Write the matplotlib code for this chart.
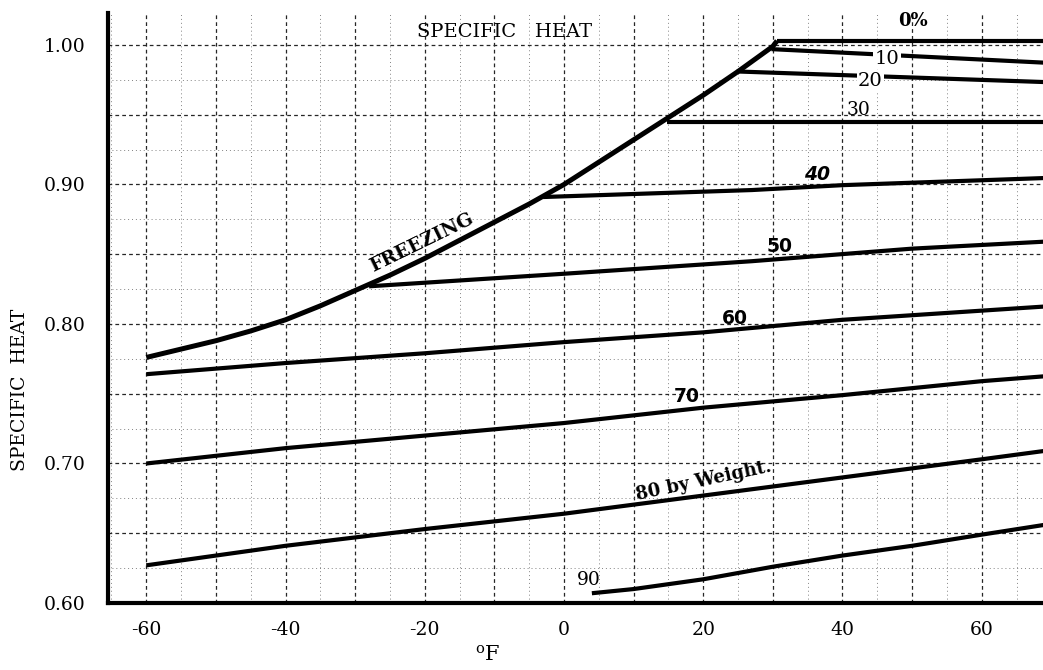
import numpy as np
import matplotlib
matplotlib.use("Agg")
import matplotlib.pyplot as plt

plt.rcParams['font.family'] = ['DejaVu Serif']
plt.rcParams['mathtext.fontset'] = 'dejavuserif'

# ---------------- data ----------------
freeze_t = [-60, -55, -50, -45, -40, -35, -30, -25, -20, -15, -10, -5, 0,
            5, 10, 15, 20, 25, 30, 30.6]
freeze_c = [0.776, 0.782, 0.788, 0.795, 0.803, 0.813, 0.824, 0.835, 0.847,
            0.860, 0.873, 0.886, 0.900, 0.916, 0.932, 0.948, 0.964, 0.981,
            0.999, 1.003]

w0_t = [30.6, 69.0]
w0_c = [1.003, 1.003]
w10_t = [29.8, 69.0]
w10_c = [0.997, 0.9873]
w20_t = [24.8, 69.0]
w20_c = [0.981, 0.9734]
w30_t = [14.8, 69.0]
w30_c = [0.945, 0.945]
w40_t = [-3.0, 27, 40, 69.0]
w40_c = [0.891, 0.896, 0.8995, 0.9046]
w50_t = [-28.0, 0, 27, 50, 69.0]
w50_c = [0.827, 0.836, 0.845, 0.854, 0.859]
w60_t = [-60, -40, -20, 0, 20, 40, 69.0]
w60_c = [0.764, 0.772, 0.779, 0.787, 0.794, 0.803, 0.8125]
w70_t = [-60, -40, -20, 0, 20, 40, 60, 69.0]
w70_c = [0.700, 0.711, 0.720, 0.729, 0.740, 0.749, 0.759, 0.7625]
w80_t = [-60, -40, -20, 0, 20, 40, 60, 69.0]
w80_c = [0.627, 0.641, 0.653, 0.664, 0.677, 0.690, 0.703, 0.709]
w90_t = [4, 10, 20, 30, 40, 50, 60, 69.0]
w90_c = [0.607, 0.610, 0.617, 0.626, 0.634, 0.641, 0.649, 0.656]

x_ticks = [-60, -40, -20, 0, 20, 40, 60]
x_ticklabels = ['-60', '-40', '-20', '0', '20', '40', '60']
y_ticks = [0.60, 0.70, 0.80, 0.90, 1.00]
y_ticklabels = ['0.60', '0.70', '0.80', '0.90', '1.00']

series = [
    (w0_t, w0_c), (w10_t, w10_c), (w20_t, w20_c), (w30_t, w30_c),
    (w40_t, w40_c), (w50_t, w50_c), (w60_t, w60_c), (w70_t, w70_c),
    (w80_t, w80_c), (w90_t, w90_c),
]

# ---------------- figure ----------------
W, H = 1043, 670
fig = plt.figure(figsize=(W / 100, H / 100), dpi=100)
ax = fig.add_axes([108 / W, 67 / H, 935 / W, 590 / H])
ax.set_xlim(-65.5, 68.8)
ax.set_ylim(0.60, 1.0229)

# grid: heavier every 10 F / 0.05, lighter every 5 F / 0.025
for gx in np.arange(-65, 70, 5):
    major = (round(gx) % 10 == 0)
    ax.axvline(gx, color='0.15' if major else '0.45',
               lw=0.9 if major else 0.6,
               dashes=(3, 2.5) if major else (1.2, 3.5), zorder=1)
for gy in np.arange(0.625, 1.03, 0.025):
    major = (round(gy * 1000) % 50 == 0)
    ax.axhline(gy, color='0.15' if major else '0.45',
               lw=0.9 if major else 0.6,
               dashes=(3, 2.5) if major else (1.2, 3.5), zorder=1)

# curves
ax.plot(freeze_t, freeze_c, color='black', lw=3.6,
        solid_capstyle='butt', solid_joinstyle='round', zorder=3)
for t, c in series:
    ax.plot(t, c, color='black', lw=3.0, solid_capstyle='butt',
            solid_joinstyle='round', zorder=3)

# spines / ticks
for s in ['top', 'right']:
    ax.spines[s].set_visible(False)
for s in ['left', 'bottom']:
    ax.spines[s].set_linewidth(3.0)
    ax.spines[s].set_color('black')
ax.set_xticks(x_ticks)
ax.set_xticklabels(x_ticklabels)
ax.set_yticks(y_ticks)
ax.set_yticklabels(y_ticklabels)
ax.tick_params(axis='both', length=0, labelsize=13.5)
ax.tick_params(axis='x', pad=13)
ax.tick_params(axis='y', pad=16)

# axis labels
fig.text(20 / W, 1 - 390 / H, 'SPECIFIC  HEAT', rotation=90,
         ha='center', va='center', fontsize=13.5)
fig.text(488 / W, 1 - 655 / H, r'$^{\mathrm{o}}\mathrm{F}$',
         ha='center', va='center', fontsize=15)

# title inside
ax.text(-8.5, 1.0095, 'SPECIFIC   HEAT', ha='center', va='center',
        fontsize=14, zorder=5)

# line labels
wb = dict(facecolor='white', edgecolor='none', pad=1.0)
ax.text(50.1, 1.0172, '0%', ha='center', va='center', fontsize=13,
        fontweight='bold', zorder=5)
ax.text(46.4, 0.9900, '10', ha='center', va='center', fontsize=14,
        bbox=wb, zorder=5)
ax.text(44.0, 0.9744, '20', ha='center', va='center', fontsize=14,
        bbox=wb, zorder=5)
ax.text(42.3, 0.9534, '30', ha='center', va='center', fontsize=13.5,
        zorder=5)
ax.text(36.3, 0.9068, '40', ha='center', va='center', fontsize=13.5,
        family='DejaVu Sans', fontweight='bold', style='italic', zorder=5)
ax.text(31.0, 0.8554, '50', ha='center', va='center', fontsize=13.5,
        family='DejaVu Sans', fontweight='bold', zorder=5)
ax.text(24.6, 0.8040, '60', ha='center', va='center', fontsize=13.5,
        family='DejaVu Sans', fontweight='bold', zorder=5)
ax.text(17.6, 0.7480, '70', ha='center', va='center', fontsize=13.5,
        family='DejaVu Sans', fontweight='bold', zorder=5)
ax.text(20.0, 0.6875, '80 by Weight.', ha='center', va='center',
        fontsize=13, fontweight='bold', rotation=12, zorder=5)
ax.text(3.6, 0.6165, '90', ha='center', va='center', fontsize=13.5,
        zorder=5)
ax.text(-20.5, 0.8585, 'FREEZING', ha='center', va='center', fontsize=13.5,
        fontweight='bold', rotation=26, zorder=5)

fig.savefig('out.png', dpi=100)
